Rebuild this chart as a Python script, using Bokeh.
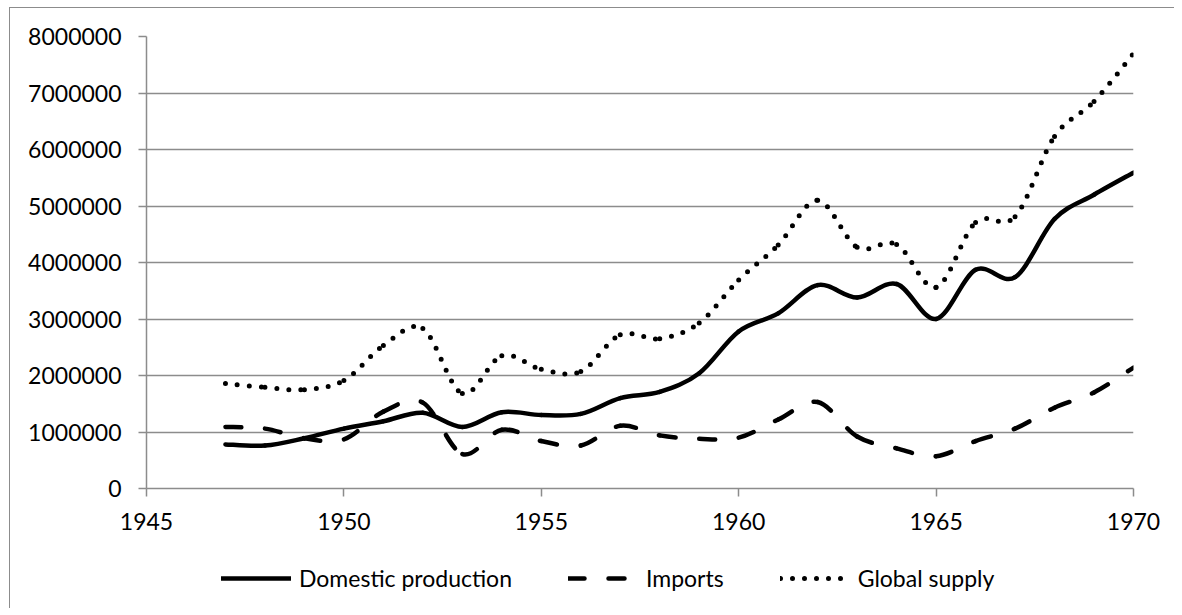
from bokeh.plotting import figure
from bokeh.layouts import column
from bokeh.models import (Legend, LegendItem, FixedTicker, NumeralTickFormatter,
                          Range1d, ColumnDataSource)
from bokeh.embed import file_html
from bokeh.resources import INLINE

# ---- data ----
years = [1947, 1948, 1949, 1950, 1951, 1952, 1953, 1954, 1955, 1956, 1957, 1958,
         1959, 1960, 1961, 1962, 1963, 1964, 1965, 1966, 1967, 1968, 1969, 1970]
domestic = [780000, 760000, 890000, 1060000, 1190000, 1340000, 1090000, 1350000,
            1300000, 1320000, 1600000, 1710000, 2040000, 2780000, 3100000, 3600000,
            3380000, 3620000, 3000000, 3870000, 3740000, 4770000, 5200000, 5590000]
imports = [1090000, 1060000, 890000, 870000, 1360000, 1520000, 610000, 1040000,
           840000, 760000, 1110000, 940000, 880000, 900000, 1220000, 1530000,
           920000, 710000, 570000, 840000, 1060000, 1430000, 1700000, 2140000]
global_supply = [1860000, 1790000, 1750000, 1910000, 2530000, 2830000, 1680000,
                 2350000, 2110000, 2070000, 2720000, 2650000, 2930000, 3690000,
                 4310000, 5100000, 4270000, 4320000, 3560000, 4710000, 4810000,
                 6230000, 6850000, 7700000]
series_names = ["Domestic production", "Imports", "Global supply"]
x_ticks = [1945, 1950, 1955, 1960, 1965, 1970]
y_ticks = [0, 1000000, 2000000, 3000000, 4000000, 5000000, 6000000, 7000000, 8000000]

FONT = "Lato"
FS = "23px"
GRAY = "#8c8c8c"
STYLES = [dict(line_width=4.5, line_cap="round", line_dash="solid"),
          dict(line_width=4.5, line_cap="round", line_dash="16 24"),
          dict(line_width=5, line_cap="round", line_dash="0 12")]


def smooth_segments(xs, ys):
    """Bezier segments through the data points (Excel-like smoothing)."""
    n = len(xs)
    d = dict(x0=[], y0=[], x1=[], y1=[], cx0=[], cy0=[], cx1=[], cy1=[])
    for i in range(n - 1):
        im1 = max(i - 1, 0)
        ip2 = min(i + 2, n - 1)
        d["x0"].append(xs[i]); d["y0"].append(ys[i])
        d["x1"].append(xs[i + 1]); d["y1"].append(ys[i + 1])
        d["cx0"].append(xs[i] + (xs[i + 1] - xs[im1]) / 6.0)
        d["cy0"].append(ys[i] + (ys[i + 1] - ys[im1]) / 6.0)
        d["cx1"].append(xs[i + 1] - (xs[ip2] - xs[i]) / 6.0)
        d["cy1"].append(ys[i + 1] - (ys[ip2] - ys[i]) / 6.0)
    return ColumnDataSource(d)


sources = [smooth_segments(years, v) for v in (domestic, imports, global_supply)]
BEZ = dict(x0="x0", y0="y0", x1="x1", y1="y1", cx0="cx0", cy0="cy0",
           cx1="cx1", cy1="cy1", line_color="black")

# ---------------- main chart ----------------
p = figure(frame_width=987, frame_height=452,
           min_border_left=136, min_border_right=38,
           min_border_top=28, min_border_bottom=70,
           x_range=Range1d(1945, 1970), y_range=Range1d(0, 8000000),
           output_backend="svg", toolbar_location=None)
p.outline_line_color = None
p.background_fill_color = "white"
p.border_fill_color = "white"

for ax in (p.xaxis[0], p.yaxis[0]):
    ax.axis_line_color = GRAY
    ax.axis_line_width = 1.5
    ax.major_tick_line_color = GRAY
    ax.major_tick_line_width = 1.5
    ax.major_tick_in = 0
    ax.major_tick_out = 8
    ax.minor_tick_line_color = None
    ax.major_label_text_font = FONT
    ax.major_label_text_font_size = FS
    ax.major_label_text_color = "black"

p.xaxis.ticker = FixedTicker(ticks=x_ticks)
p.xaxis.major_label_standoff = 16
p.yaxis.ticker = FixedTicker(ticks=y_ticks)
p.yaxis.formatter = NumeralTickFormatter(format="0")
p.yaxis.major_label_standoff = 17

p.xgrid.grid_line_color = None
p.ygrid.grid_line_color = GRAY
p.ygrid.grid_line_width = 1.5

for src, st in zip(sources, STYLES):
    p.bezier(source=src, **BEZ, **st)

# ---------------- legend strip ----------------
# same series drawn again (out of this strip's view) so the legend has glyphs
pl = figure(width=1164, height=50, min_border=0,
            x_range=Range1d(0, 1), y_range=Range1d(0, 1),
            x_axis_location=None, y_axis_location=None,
            output_backend="svg", toolbar_location=None)
pl.outline_line_color = None
pl.grid.grid_line_color = None
pl.background_fill_color = "white"
pl.border_fill_color = "white"

items = []
for name, src, st in zip(series_names, sources, STYLES):
    r = pl.bezier(source=src, **BEZ, **st)
    items.append(LegendItem(label=name, renderers=[r]))

legend = Legend(items=items, orientation="horizontal", location=(75, 15),
                glyph_width=70, glyph_height=30, label_standoff=8, spacing=56,
                padding=0, margin=0, border_line_color=None,
                background_fill_alpha=0,
                label_text_font=FONT, label_text_font_size=FS,
                label_text_color="black")
pl.add_layout(legend, "center")

layout = column(p, pl, spacing=0)
layout.styles = {"margin-left": "9px", "margin-top": "7px",
                 "border-left": f"1px solid {GRAY}",
                 "border-top": f"1px solid {GRAY}"}

open("out.html", "w").write(file_html(layout, INLINE))
